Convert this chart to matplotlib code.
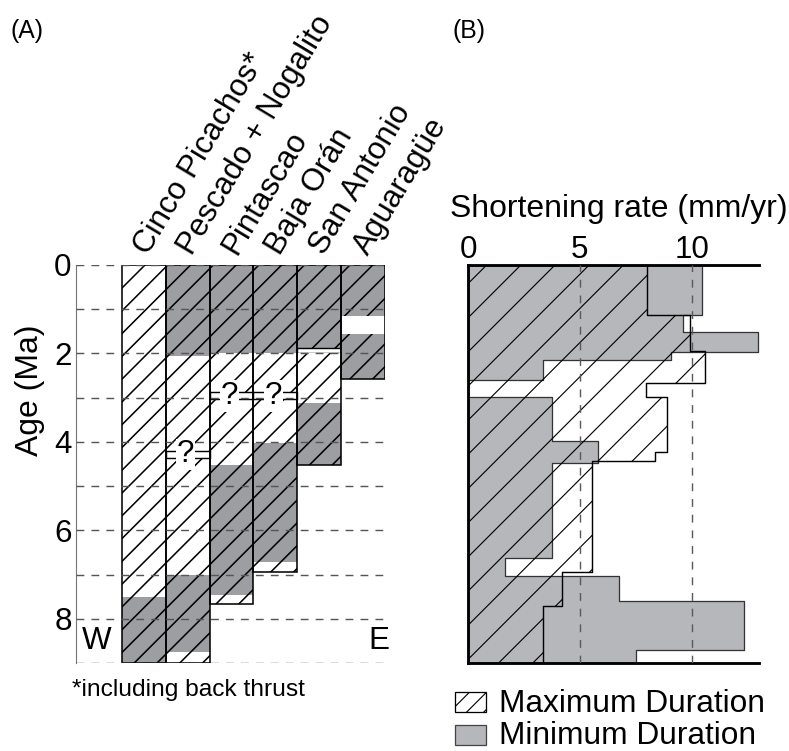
# timing of thrusting (A) and shortening rate (B)
# figure is built in pixels at 205 dpi so the hatch spacing comes out right

import numpy as np
import matplotlib
matplotlib.use('Agg')
import matplotlib.pyplot as plt
from matplotlib.patches import Rectangle

plt.rcParams['font.family'] = ['Liberation Sans', 'DejaVu Sans']

# ---- panel A data : structures from W to E, segment boundaries in Ma
structures = ['Cinco Picachos*', 'Pescado + Nogalito', 'Pintascao',
              'Baja Orán', 'San Antonio', 'Aguaragüe']
seg_ages = [
    [0, 7.5, 9.0],
    [0, 2.05, 7.0, 8.75, 9.0],
    [0, 2.0, 4.53, 7.47, 7.67],
    [0, 2.0, 4.02, 6.72, 6.94],
    [0, 1.88, 2.0, 3.12, 4.53],
    [0, 1.15, 1.55, 2.57],
]
seg_kind = [
    ['max', 'min'],
    ['min', 'max', 'min', 'max'],
    ['min', 'max', 'min', 'max'],
    ['min', 'max', 'min', 'max'],
    ['min', 'brk', 'max', 'min'],
    ['min', 'gap', 'min'],
]
query_age = [None, 4.28, 2.96, 2.96, None, None]

# ---- panel B data : step profiles, age edges (Ma) and rate (mm/yr)
max_age = [0, 1.13, 1.94, 2.67, 2.98, 4.22, 4.44, 6.95, 7.71, 9.0]
max_rate = [8.0, 9.95, 10.6, 7.96, 8.88, 8.36, 5.52, 4.18, 3.36]
min_age = [0, 1.13, 1.52, 1.97, 2.14, 2.6, 2.98, 3.99, 4.47, 6.63, 7.03, 7.59, 8.70, 9.0]
min_rate = [10.45, 9.6, 12.99, 9.06, 3.36, 0, 3.73, 5.82, 3.73, 1.64, 6.76, 12.35, 7.51]

DPI = 205
W, H = 789, 751
GRAY_A = '#9d9ea2'
GRAY_B = '#b6b7bb'
FS = 11.0

fig = plt.figure(figsize=(W/DPI, H/DPI), dpi=DPI)

def fx(px): return px/W
def fy(py): return 1 - py/H

# ================= panel A
plt.rcParams['hatch.linewidth'] = 0.55
axA = fig.add_axes([fx(76), fy(663), (385.3-76)/W, (663-265)/H])
axA.set_xlim(-1.04, 6.0)
axA.set_ylim(9, 0)

hatches = {'max': ('white', '///'), 'min': (GRAY_A, '///'),
           'gap': ('white', None), 'brk': ('white', None)}
for i, (ages, kinds) in enumerate(zip(seg_ages, seg_kind)):
    for top, bot, k in zip(ages[:-1], ages[1:], kinds):
        fc, ht = hatches[k]
        axA.add_patch(Rectangle((i, top), 1, bot-top, facecolor=fc, edgecolor='black',
                                lw=0.5 if k == 'brk' else 0, hatch=ht, zorder=2))
    axA.add_patch(Rectangle((i, 0), 1, ages[-1], fill=False, edgecolor='black', lw=0.55, zorder=4))
    if query_age[i] is not None:
        q = query_age[i]
        axA.add_patch(Rectangle((i, q-0.08), 1, 0.16, facecolor='white', edgecolor='black',
                                lw=0.5, zorder=3))
        axA.text(i+0.45, q, '?', fontsize=FS, ha='center', va='center', zorder=6,
                 bbox=dict(fc='white', ec='none', pad=0.2))
    axA.text(i+0.61, -0.2, structures[i], rotation=59, rotation_mode='anchor',
             ha='left', va='baseline', fontsize=11.0, clip_on=False)

axA.hlines(np.arange(10), -1.04, 6.0, colors='#555555', linestyles=(0, (5.5, 5)), lw=0.5, zorder=5)

for s in ['top', 'right', 'bottom']:
    axA.spines[s].set_visible(False)
axA.spines['left'].set_color('#777777')
axA.spines['left'].set_linewidth(0.4)
axA.set_xticks([])
axA.set_yticks(np.arange(10))
axA.set_yticklabels([str(v) if v % 2 == 0 else '' for v in range(10)])
axA.tick_params(axis='y', length=0, pad=1.5, labelsize=FS)

axA.text(-0.56, 8.51, 'W', fontsize=FS, ha='center', va='center', zorder=6)
axA.text(5.85, 8.51, 'E', fontsize=FS, ha='center', va='center', zorder=6)

fig.text(fx(30), fy(390), 'Age (Ma)', rotation=90, ha='center', va='center', fontsize=11.2)
fig.text(fx(10), fy(31), '(A)', ha='left', va='center', fontsize=8.7)
fig.text(fx(452), fy(31), '(B)', ha='left', va='center', fontsize=8.7)
fig.text(fx(72), fy(690), '*including back thrust', ha='left', va='center', fontsize=8.6)

# ================= panel B
plt.rcParams['hatch.linewidth'] = 0.4
axB = fig.add_axes([fx(468.3), fy(663), 290.3/W, (663-265)/H])
axB.set_xlim(0, 13)
axB.set_ylim(9, 0)

axB.fill_betweenx(min_age, 0, min_rate + [min_rate[-1]], step='post',
                  facecolor=GRAY_B, edgecolor='#333333', lw=0.45, zorder=1)
axB.fill_betweenx(max_age, 0, max_rate + [max_rate[-1]], step='post',
                  facecolor='none', edgecolor='black', hatch='//', lw=0.5, zorder=2)
for xv in [5, 10]:
    axB.axvline(xv, color='#5a5a5a', ls=(0, (5.5, 5.5)), lw=0.5, zorder=3)

axB.spines['right'].set_visible(False)
for s in ['left', 'top', 'bottom']:
    axB.spines[s].set_linewidth(1.0)
axB.set_yticks([])
axB.set_xticks([0, 5, 10])
axB.tick_params(axis='x', top=True, labeltop=True, bottom=False, labelbottom=False,
                length=0, pad=0, labelsize=FS)

fig.text(fx(450), fy(217), 'Shortening rate (mm/yr)', ha='left', va='baseline', fontsize=11.2)

# legend boxes
fig.add_artist(Rectangle((fx(455), fy(711.7)), 30.7/W, 20/H, transform=fig.transFigure,
                         facecolor='white', edgecolor='black', lw=0.45, hatch='////'))
fig.add_artist(Rectangle((fx(455), fy(745)), 30.7/W, 20/H, transform=fig.transFigure,
                         facecolor=GRAY_B, edgecolor='#444444', lw=0.45))
fig.text(fx(499), fy(712.5), 'Maximum Duration', ha='left', va='baseline', fontsize=11.1)
fig.text(fx(499), fy(744), 'Minimum Duration', ha='left', va='baseline', fontsize=11.1)

plt.savefig('out.png', dpi=DPI)
